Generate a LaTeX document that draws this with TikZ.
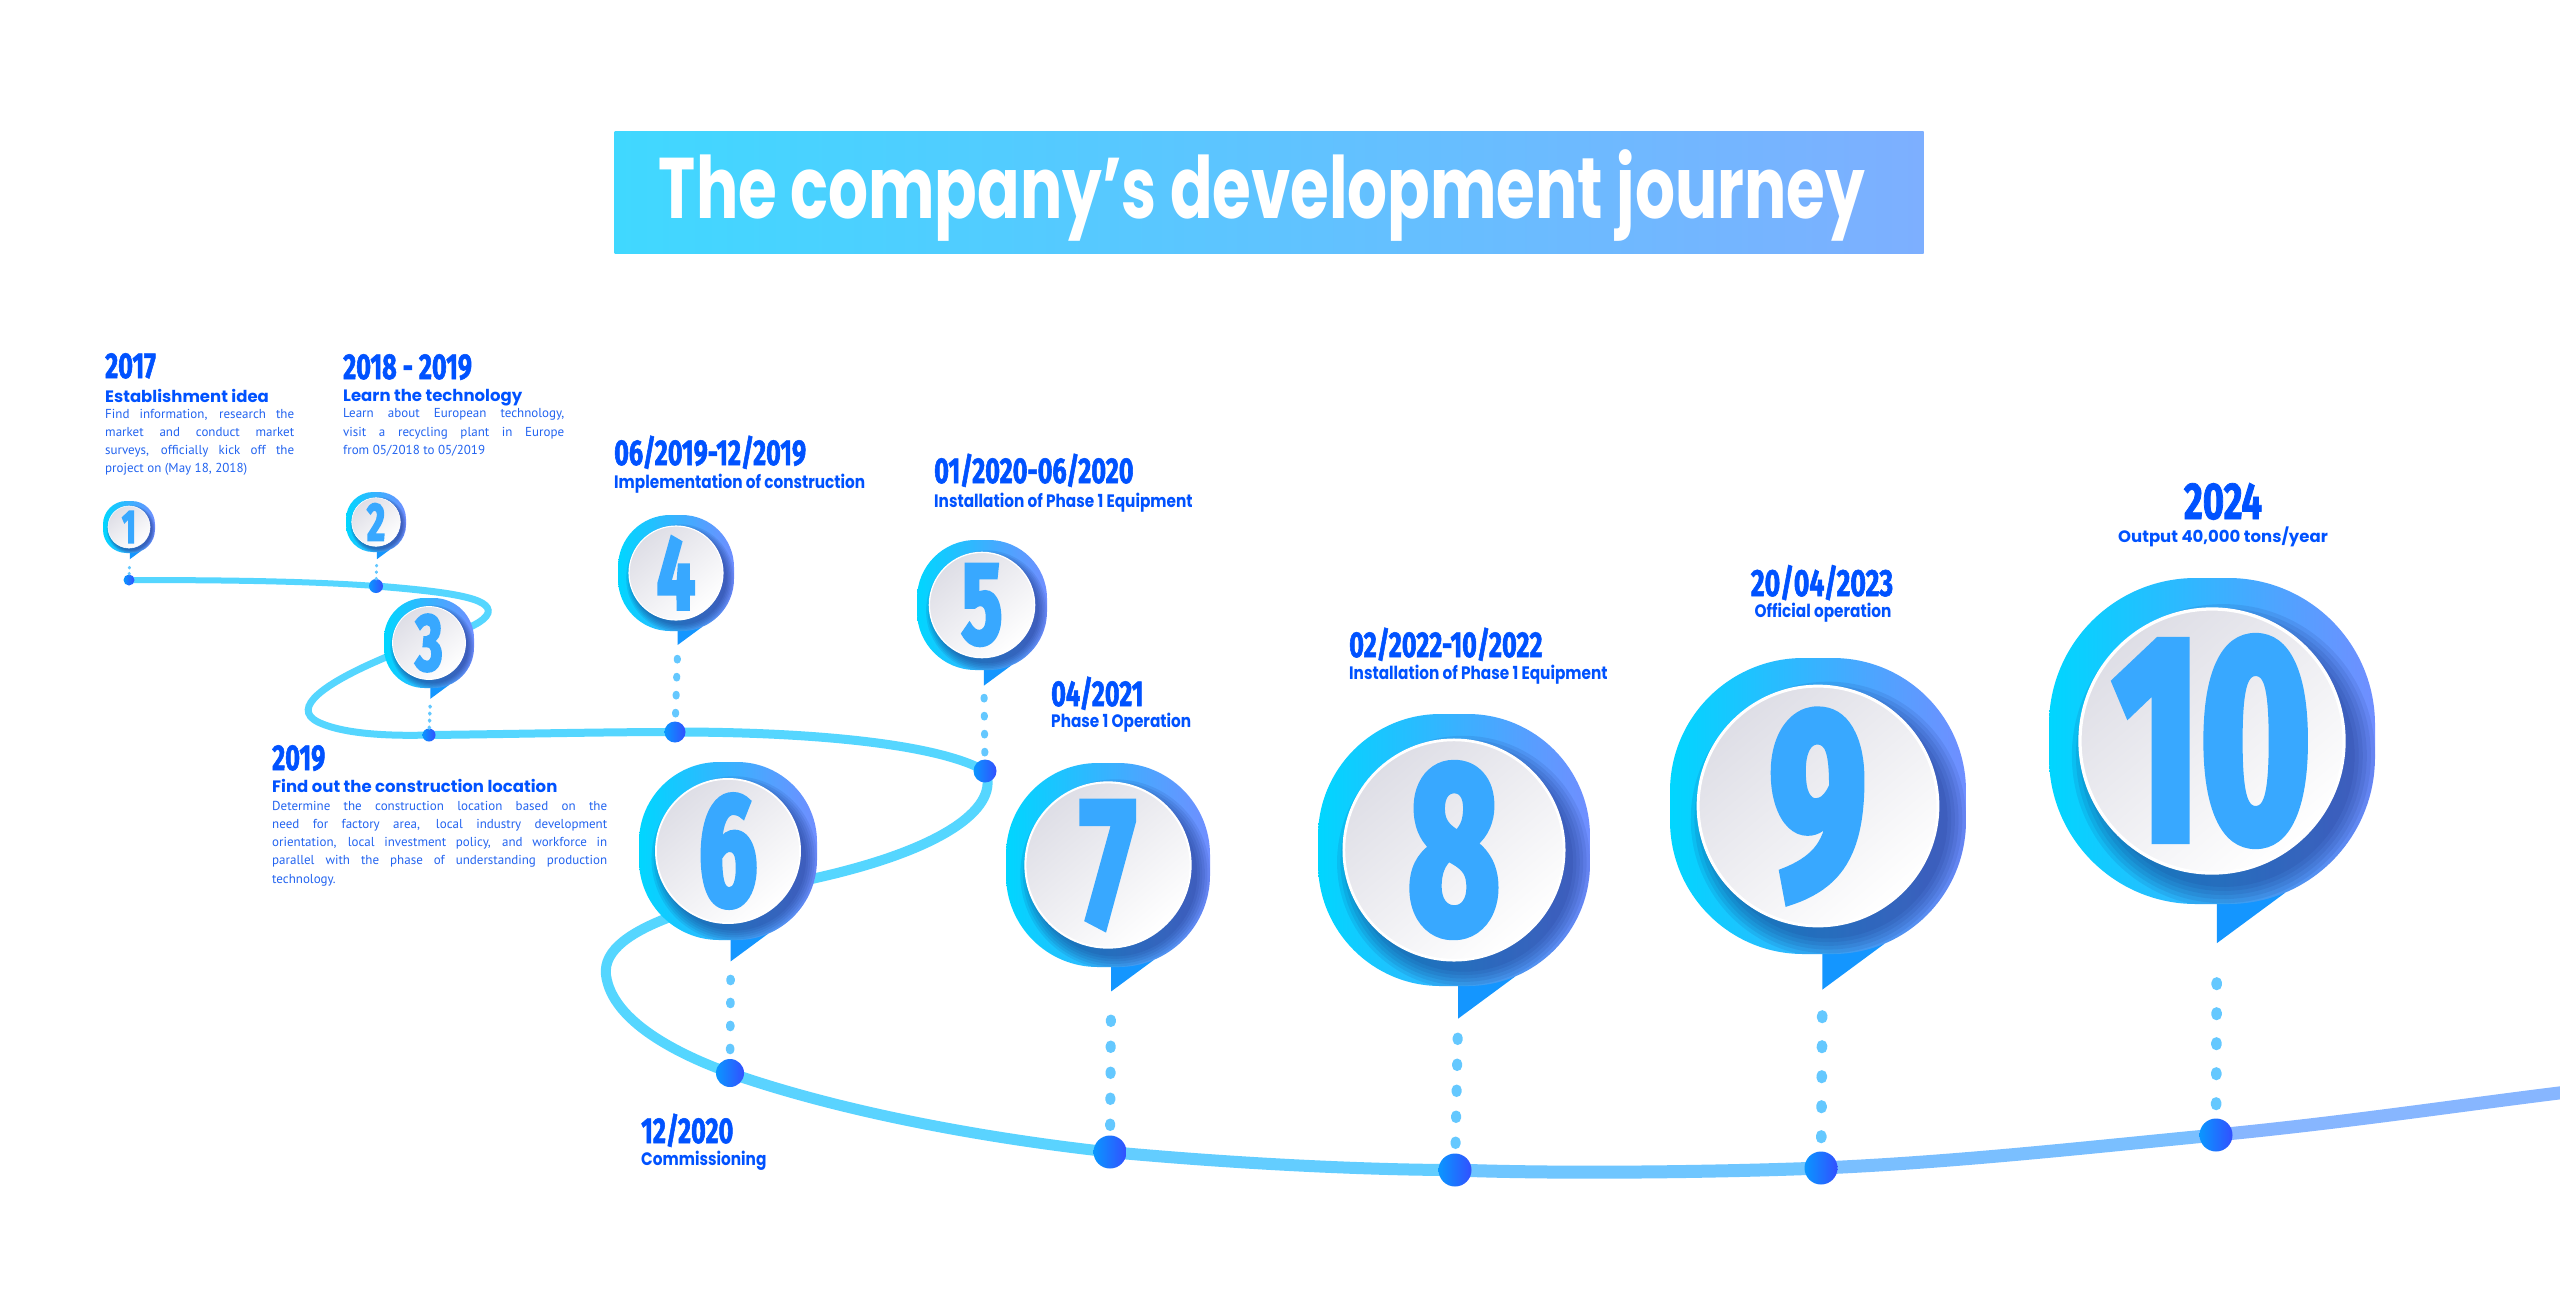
\documentclass[tikz,border=0pt]{standalone}
\usepackage{fontspec}
\usepackage{tikz}
\usetikzlibrary{positioning}

\setmainfont{PT Sans}
\newfontfamily\numfont[FakeStretch=0.7,FakeBold=1.5]{Fira Sans}
\newfontfamily\pinfont[FakeStretch=0.64,FakeBold=3]{Fira Sans}
\newfontfamily\headfont{Poppins}
\newfontfamily\headcond[FakeStretch=0.85]{Poppins}
\newfontfamily\titlefont[FakeStretch=0.73]{Poppins}

\definecolor{dateblue}{RGB}{0,82,255}
\definecolor{textblue}{RGB}{35,100,240}
\definecolor{titleL}{RGB}{64,216,255}
\definecolor{titleR}{RGB}{125,175,255}
\definecolor{pinL}{RGB}{0,214,255}
\definecolor{pinR}{RGB}{112,142,255}
\definecolor{tailblue}{RGB}{20,150,255}
\definecolor{shadowblue}{RGB}{20,40,120}
\definecolor{innerTL}{RGB}{222,222,230}
\definecolor{numblue}{RGB}{56,168,255}
\definecolor{pathL}{RGB}{85,214,255}
\definecolor{pathR}{RGB}{142,178,255}
\definecolor{dashcol}{RGB}{100,200,255}
\definecolor{dotL}{RGB}{10,150,255}
\definecolor{dotR}{RGB}{50,80,255}

\begin{document}
\begin{tikzpicture}[x=1pt, y=-1pt,
    titlebar/.style={rectangle, inner sep=0pt, minimum width=1309pt, minimum height=122pt, left color=titleL, right color=titleR},
    titletxt/.style={text=white, inner sep=0pt, font=\titlefont\bfseries\fontsize{86}{86}\selectfont},
    datetxt/.style={text=dateblue, inner sep=0pt, anchor=base west, font=\numfont\bfseries\fontsize{36}{36}\selectfont},
    headtxt/.style={text=dateblue, inner sep=0pt, anchor=base west, font=\headfont\bfseries\fontsize{16.5}{18}\selectfont},
    headcond/.style={text=dateblue, inner sep=0pt, anchor=base west, font=\headcond\bfseries\fontsize{18}{20}\selectfont},
    bodytxt/.style={text=textblue, inner sep=0pt, anchor=north west, align=justify, font=\fontsize{13}{18.3}\selectfont},
    trail/.style={line cap=round, draw=pathL},
    dotline/.style={draw=dashcol, line cap=round},
    dotnode/.style={circle, inner sep=0pt, outer sep=0pt, left color=dotL, right color=dotR},
    pinblob/.style={rectangle, inner sep=0pt, outer sep=0pt, left color=pinL, right color=pinR},
    innerdisc/.style={top color=innerTL, bottom color=white, shading angle=40},
    numtxt/.style={text=numblue, inner sep=0pt}
]
\useasboundingbox (0,0) rectangle (2560,1302);
\fill[white] (0,0) rectangle (2560,1302);

% title
\node[titlebar] (title) at (1269,192) {};
\node[titletxt, anchor=base] (titletext) at (1262,218) {The company’s development journey};

% points on the trail
\foreach \n/\x/\y in {1/129/580, 2/376/586, 3/429/735, 4/675/732, 5/985/771,
                      6/730/1073, 7/1110/1152, 8/1455/1170, 9/1821/1168, 10/2216/1135}
    \coordinate (c\n) at (\x,\y);
\coordinate (trailend) at (2575,1091);

% the trail
\draw[trail, line width=6pt] (c1) .. controls (250,580) and (320,582) .. (c2);
\draw[trail, line width=7pt] (c2) .. controls (450,592) and (492,598) .. (488,613)
    .. controls (482,630) and (420,642) .. (384,658)
    .. controls (325,683) and (290,708) .. (318,722)
    .. controls (345,735) and (395,736) .. (c3);
\draw[trail, line width=8pt] (c3) .. controls (520,734) and (600,732) .. (c4);
\draw[trail, line width=9pt] (c4) .. controls (820,732) and (940,745) .. (c5);
\draw[trail, line width=10pt] (c5) .. controls (1000,805) and (950,848) .. (816,878)
    .. controls (720,900) and (600,925) .. (606,975)
    .. controls (612,1022) and (680,1055) .. (c6);
\draw[trail, draw=pathL!92!pathR, line width=11pt] (c6) .. controls (850,1115) and (1000,1140) .. (c7);
\draw[trail, draw=pathL!75!pathR, line width=12pt] (c7) .. controls (1250,1165) and (1380,1170) .. (c8);
\draw[trail, draw=pathL!55!pathR, line width=13pt] (c8) .. controls (1560,1174) and (1720,1172) .. (c9);
\draw[trail, draw=pathL!35!pathR, line width=13pt] (c9) .. controls (1960,1162) and (2100,1146) .. (c10);
\draw[trail, draw=pathL!12!pathR, line width=13pt] (c10) .. controls (2350,1122) and (2460,1105) .. (trailend);

% pins, dots and dotted drops
\foreach \n/\x/\y/\r/\dr/\w/\s in {1/129/527/26/5.5/3/6, 2/376/522/30/7/3/6.5, 3/429/643/45/6.5/3.5/7,
        4/676/573/58/10.5/7/18, 5/982/605/65/11.5/7/18, 6/728/851/89/14/8.5/23,
        7/1108/865/102/16.5/10/26, 8/1454/850/136/16.5/10/26, 9/1818/806/148/16.5/10.5/30,
        10/2212/741/163/16.5/10.5/30}
{
    \pgfmathsetmacro\rc{0.9*\r}
    \pgfmathsetmacro\sz{2*\r}
    \pgfmathsetmacro\fs{1.8*\r}
    \pgfmathsetmacro\lw{0.02*\r}
    \pgfmathsetmacro\sh{max(\s-\dr,0)}
    \pgfmathsetmacro\se{0.5*\s}
    \pgfmathsetmacro\on{0.25*\w}
    \pgfmathsetmacro\off{\s-\on}
    \coordinate (tip\n) at (\x+0.03*\r, \y+1.24*\r);
    \fill[tailblue] (\x+0.03*\r, \y+0.8*\r) -- (tip\n) -- (\x+0.45*\r, \y+0.93*\r) -- cycle;
    \node[pinblob, minimum size=\sz pt, rounded corners=\rc pt] (pin\n) at (\x,\y) {};
    \begin{scope}
        \clip[rounded corners=\rc pt] (\x-\r,\y-\r) rectangle (\x+\r,\y+\r);
        \foreach \k in {1,...,6}
            \fill[shadowblue, opacity=0.1] (\x+0.07*\r,\y+0.09*\r) circle (0.78*\r+\k*0.025*\r);
    \end{scope}
    \shade[innerdisc] (\x,\y) circle (0.81*\r);
    \draw[white, line width=\lw pt] (\x,\y) circle (0.81*\r);
    \node[numtxt, font=\pinfont\bfseries\fontsize{\fs}{\fs}\selectfont] (num\n) at (\x,\y) {\n};
    \node[dotnode, minimum size=2*\dr pt] (dot\n) at (c\n) {};
    \draw[dotline, line width=\w pt, dash pattern=on \on pt off \off pt, shorten <=\sh pt, shorten >=\se pt]
        (dot\n) -- (tip\n);
}

% texts
\node[datetxt] (date1) at (105,378) {2017};
\node[headtxt] (head1) at (105,402) {Establishment idea};
\node[bodytxt, text width=189pt] (body1) at (105,408.6) {Find information, research the\linebreak
    market and conduct market\linebreak surveys, officially kick off the\linebreak project on (May 18, 2018)};

\node[datetxt] (date2) at (343,379) {2018 - 2019};
\node[headtxt] (head2) at (343,401) {Learn the technology};
\node[bodytxt, text width=221pt] (body2) at (343,408.6) {Learn about European technology,\linebreak
    visit a recycling plant in Europe\linebreak from 05/2018 to 05/2019};

\node[datetxt] (date3) at (272,770) {2019};
\node[headtxt] (head3) at (272,792) {Find out the construction location};
\node[bodytxt, text width=335pt] (body3) at (272,800.6) {Determine the construction location based on the\linebreak
    need for factory area, local industry development\linebreak orientation, local investment policy, and workforce in\linebreak
    parallel with the phase of understanding production\linebreak technology.};

\node[datetxt] (date4) at (614,465) {06/2019-12/2019};
\node[headcond] (head4) at (614,488) {Implementation of construction};

\node[datetxt] (date5) at (934,483) {01/2020-06/2020};
\node[headcond] (head5) at (934,507) {Installation of Phase 1 Equipment};

\node[datetxt] (date6) at (641,1143) {12/2020};
\node[headcond] (head6) at (641,1165) {Commissioning};

\node[datetxt] (date7) at (1051,706) {04/2021};
\node[headcond] (head7) at (1051,727) {Phase 1 Operation};

\node[datetxt] (date8) at (1349,657) {02/2022-10/2022};
\node[headcond] (head8) at (1349,679) {Installation of Phase 1 Equipment};

\node[datetxt, anchor=base, font=\numfont\bfseries\fontsize{38}{38}\selectfont] (date9) at (1822,596) {20/04/2023};
\node[headcond, anchor=base] (head9) at (1823,617) {Official operation};

\node[datetxt, anchor=base, font=\numfont\bfseries\fontsize{52}{52}\selectfont] (date10) at (2223,519) {2024};
\node[headtxt, anchor=base] (head10) at (2223,542) {Output 40,000 tons/year};
\end{tikzpicture}
\end{document}
